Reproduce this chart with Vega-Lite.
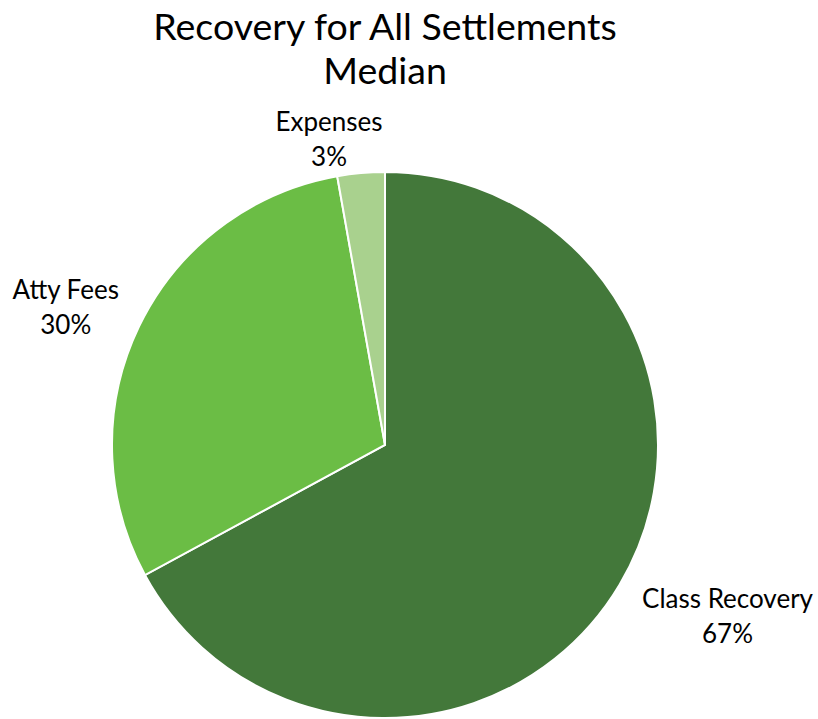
{
  "$schema": "https://vega.github.io/schema/vega-lite/v6.json",
  "width": 700,
  "height": 540,
  "autosize": {"type": "none"},
  "padding": {"left": 35, "top": 175, "right": 83, "bottom": 4},
  "background": "white",
  "title": {
    "text": ["Recovery for All Settlements", "Median"],
    "font": "Lato",
    "fontSize": 37.5,
    "fontWeight": "normal",
    "color": "#000000",
    "lineHeight": 44,
    "anchor": "middle",
    "offset": -2
  },
  "data": {
    "values": [
      {"category": "Class Recovery", "value": 67.1, "label": "Class Recovery\n67%"},
      {"category": "Atty Fees", "value": 30.1, "label": "Atty Fees\n30%"},
      {"category": "Expenses", "value": 2.8, "label": "Expenses\n3%"}
    ]
  },
  "encoding": {
    "theta": {"field": "value", "type": "quantitative", "stack": true},
    "order": {"field": "value", "type": "quantitative", "sort": "descending"}
  },
  "layer": [
    {
      "mark": {"type": "arc", "outerRadius": 273, "stroke": "white", "strokeWidth": 2},
      "encoding": {
        "color": {
          "field": "category",
          "type": "nominal",
          "scale": {"domain": ["Class Recovery", "Atty Fees", "Expenses"], "range": ["#43783A", "#6BBD45", "#A9D18E"]},
          "legend": null
        }
      }
    },
    {
      "mark": {"type": "text", "radius": 330, "dx": 59, "dy": -14, "font": "Lato", "fontSize": 26, "lineBreak": "\n", "lineHeight": 35, "align": "center", "baseline": "middle", "color": "#000000"},
      "encoding": {
        "text": {"condition": {"test": "datum.category === 'Class Recovery'", "field": "label"}, "value": ""}
      }
    },
    {
      "mark": {"type": "text", "radius": 330, "dx": -22, "dy": -11, "font": "Lato", "fontSize": 26, "lineBreak": "\n", "lineHeight": 35, "align": "center", "baseline": "middle", "color": "#000000"},
      "encoding": {
        "text": {"condition": {"test": "datum.category === 'Atty Fees'", "field": "label"}, "value": ""}
      }
    },
    {
      "mark": {"type": "text", "radius": 330, "dx": -27, "dy": 7, "font": "Lato", "fontSize": 26, "lineBreak": "\n", "lineHeight": 35, "align": "center", "baseline": "middle", "color": "#000000"},
      "encoding": {
        "text": {"condition": {"test": "datum.category === 'Expenses'", "field": "label"}, "value": ""}
      }
    }
  ],
  "config": {"view": {"stroke": null}}
}
